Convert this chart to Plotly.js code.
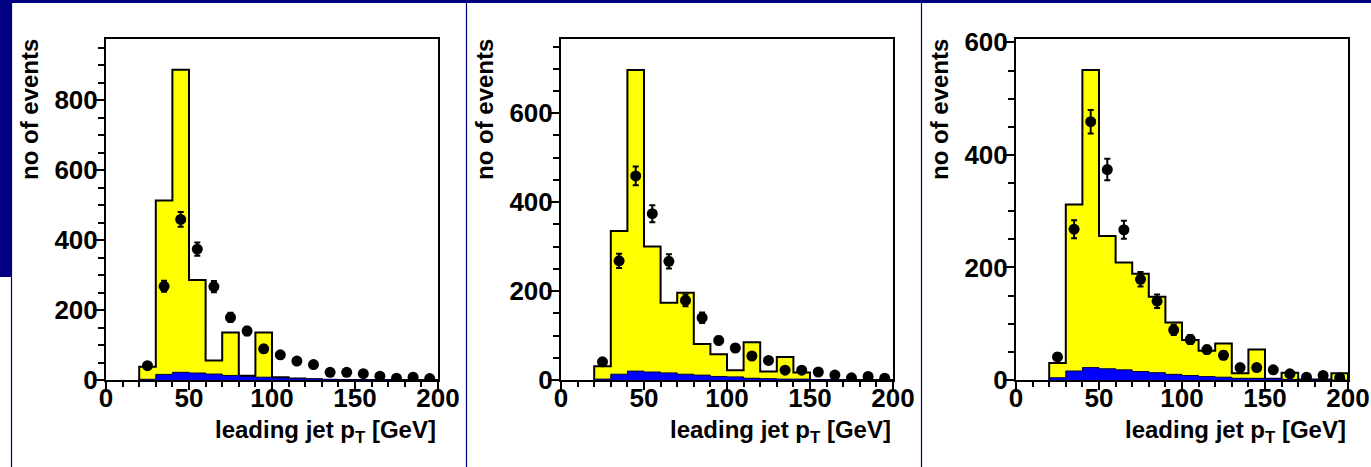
<!DOCTYPE html>
<html>
<head>
<meta charset="utf-8">
<script src="https://cdn.plot.ly/plotly-3.0.1.min.js"></script>
<style>html,body{margin:0;padding:0;background:#fff;}#chart{width:1371px;height:467px;}</style>
</head>
<body>
<div id="chart"></div>
<script>
// ---- data ----
const binEdges = [20,30,40,50,60,70,80,90,100,110,120,130,140,150,160,170,180,190,200];
const binCenters = [25,35,45,55,65,75,85,95,105,115,125,135,145,155,165,175,185,195];

// measured data points (same in all panels)
const dataCounts = [41, 268, 459, 374, 267, 179, 140, 89, 72, 54, 44, 22, 22, 18, 11, 5, 8, 4];
const dataErrors = [6, 16, 21, 19, 16, 13, 12, 9, 8, 7, 7, 5, 5, 4, 3, 2, 3, 2];

// yellow (total simulation) per panel
const totalPanel1 = [38, 513, 887, 286, 56, 136, 12, 136, 8, 4, 2, 0, 0, 0, 0, 0, 0, 0];
const totalPanel2 = [31, 335, 697, 300, 174, 196, 81, 58, 22, 85, 19, 52, 17, 0, 0, 0, 0, 0];
const totalPanel3 = [30, 312, 551, 256, 209, 189, 148, 102, 71, 52, 65, 12, 54, 2, 13, 1, 1, 12];

// blue (background) per panel
const bkgPanel1 = [2, 16, 22, 20, 17, 13, 10, 8, 6, 4, 3, 2, 1, 1, 1, 0, 0, 0];
const bkgPanel2 = [2, 13, 20, 18, 16, 13, 11, 8, 7, 4, 3, 2, 2, 1, 1, 0, 0, 0];
const bkgPanel3 = [4, 16, 22, 20, 18, 15, 13, 10, 8, 6, 5, 3, 3, 2, 1, 1, 1, 0];

const yMaxima = [975, 767, 606];
const xTitle = 'leading jet p<sub>T</sub> [GeV]';
const yTitle = 'no of events';

// ---- layout helpers ----
const W = 1371, H = 467;
const px = x => x / W;
const py = y => (H - y) / H;
const panelLeft = [106, 561, 1016];
const panelWidth = 332;
const plotTop = 39, plotBottom = 380;
const FONT = 'Liberation Sans, Arial, Helvetica, sans-serif';

function stepXY(vals){
  const xs = [binEdges[0]], ys = [0];
  for (let i = 0; i < vals.length; i++){ xs.push(binEdges[i]); ys.push(vals[i]); }
  xs.push(binEdges[binEdges.length-1]); ys.push(vals[vals.length-1]);
  xs.push(binEdges[binEdges.length-1]); ys.push(0);
  return {x: xs, y: ys};
}

const totals = [totalPanel1, totalPanel2, totalPanel3];
const bkgs = [bkgPanel1, bkgPanel2, bkgPanel3];
const traces = [];
const layout = {
  width: W, height: H,
  margin: {l:0, r:0, t:0, b:0},
  paper_bgcolor: '#ffffff', plot_bgcolor: '#ffffff',
  showlegend: false,
  font: {family: FONT, size: 25, color: '#000', weight: 'bold'},
  shapes: [], annotations: []
};

for (let p = 0; p < 3; p++){
  const sfx = p === 0 ? '' : String(p+1);
  const xa = 'x' + sfx, ya = 'y' + sfx;
  const t = stepXY(totals[p]);
  traces.push({type:'scatter', mode:'lines', x:t.x, y:t.y, xaxis:xa, yaxis:ya,
    line:{shape:'hv', color:'#000', width:2}, fill:'tozeroy', fillcolor:'#ffff00', hoverinfo:'skip'});
  const b = stepXY(bkgs[p]);
  traces.push({type:'scatter', mode:'lines', x:b.x, y:b.y, xaxis:xa, yaxis:ya,
    line:{shape:'hv', color:'#000040', width:1}, fill:'tozeroy', fillcolor:'#0000ff', hoverinfo:'skip'});
  traces.push({type:'scatter', mode:'markers', x:binCenters, y:dataCounts, xaxis:xa, yaxis:ya,
    marker:{color:'#000', size:11, symbol:'circle'},
    error_y:{type:'data', array:dataErrors, visible:true, color:'#000', thickness:2, width:3}});

  const L = panelLeft[p];
  layout['xaxis'+sfx] = {
    domain:[px(L), px(L+panelWidth)], anchor: ya, range:[0,200],
    tickmode:'linear', tick0:0, dtick:50, ticks:'outside', ticklen:8, tickwidth:2, tickcolor:'#000',
    minor:{dtick:10, tick0:0, ticks:'outside', ticklen:5, tickwidth:2, tickcolor:'#000', showgrid:false},
    showline:true, linecolor:'#000', linewidth:2, mirror:true, showgrid:false, zeroline:false,
    ticklabelstandoff:-14,
    tickfont:{family:FONT, size:26, color:'#000', weight:'bold'}, fixedrange:true
  };
  layout['yaxis'+sfx] = {
    domain:[py(plotBottom), py(plotTop)], anchor: xa, range:[0, yMaxima[p]],
    tickmode:'linear', tick0:0, dtick:200, ticks:'outside', ticklen:11, tickwidth:2, tickcolor:'#000',
    minor:{dtick:50, tick0:0, ticks:'outside', ticklen:6, tickwidth:2, tickcolor:'#000', showgrid:false},
    showline:true, linecolor:'#000', linewidth:2, mirror:true, showgrid:false, zeroline:false,
    ticklabelstandoff:-10,
    tickfont:{family:FONT, size:26, color:'#000', weight:'bold'}, fixedrange:true
  };
  // axis titles (ROOT style: right / top aligned)
  layout.annotations.push({xref:'paper', yref:'paper', x:px(L+332), y:py(414), xanchor:'right', yanchor:'top',
    text:'<b>'+xTitle+'</b>', showarrow:false, font:{family:FONT, size:24, color:'#000', weight:'bold'}});
  layout.annotations.push({xref:'paper', yref:'paper', x:px(L-76.5), y:py(37), xanchor:'center', yanchor:'top',
    textangle:-90, text:'<b>'+yTitle+'</b>', showarrow:false, font:{family:FONT, size:24, color:'#000', weight:'bold'}});
}

// navy slide decoration
const NAVY = '#000080';
layout.shapes.push({type:'rect', xref:'paper', yref:'paper', x0:0, x1:1, y0:py(3), y1:1, fillcolor:NAVY, line:{width:0}, layer:'above'});
layout.shapes.push({type:'rect', xref:'paper', yref:'paper', x0:0, x1:px(12), y0:py(277), y1:1, fillcolor:NAVY, line:{width:0}, layer:'above'});
[11.5, 466.5, 921.5].forEach(xv => {
  layout.shapes.push({type:'line', xref:'paper', yref:'paper', x0:px(xv), x1:px(xv), y0:0, y1:1, line:{color:NAVY, width:1.2}, layer:'above'});
});

Plotly.newPlot('chart', traces, layout, {displayModeBar:false, staticPlot:true});
</script>
</body>
</html>
